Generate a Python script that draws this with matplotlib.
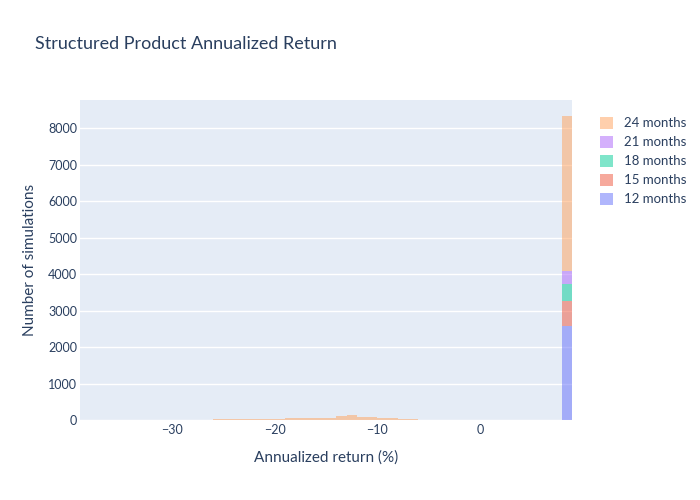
import numpy as np
import matplotlib
matplotlib.use('Agg')
import matplotlib.pyplot as plt
from matplotlib.patches import Patch

# 区间左端点（宽度 1%）
bin_left = [-26, -25, -24, -23, -22, -21, -20, -19, -18, -17, -16, -15,
            -14, -13, -12, -11, -10, -9, -8, -7, -6, -5, -4, -3, -2, -1, 8]
# 各期限在每个区间的模拟次数（堆叠）
months_12 = [0, 0, 0, 0, 0, 0, 0, 0, 0, 0, 0, 0,
             0, 0, 0, 0, 0, 0, 0, 0, 0, 0, 0, 0, 0, 0, 2566]
months_15 = [0, 0, 0, 0, 0, 0, 0, 0, 0, 0, 0, 0,
             0, 0, 0, 0, 0, 0, 0, 0, 0, 0, 0, 0, 0, 0, 706]
months_18 = [0, 0, 0, 0, 0, 0, 0, 0, 0, 0, 0, 0,
             0, 0, 0, 0, 0, 0, 0, 0, 0, 0, 0, 0, 0, 0, 467]
months_21 = [0, 0, 0, 0, 0, 0, 0, 0, 0, 0, 0, 0,
             0, 0, 0, 0, 0, 0, 0, 0, 0, 0, 0, 0, 0, 0, 357]
months_24 = [15, 15, 15, 15, 40, 40, 40, 65, 65, 65, 65, 65,
             100, 125, 95, 95, 65, 65, 40, 40, 12, 12, 12, 12, 12, 12, 4229]

series_names = ['12 months', '15 months', '18 months', '21 months', '24 months']
series_colors = ['#636efa', '#EF553B', '#00cc96', '#ab63fa', '#FFA15A']

TXT = '#2a3f5f'
plt.rcParams['font.family'] = ['Lato', 'DejaVu Sans']

fig = plt.figure(figsize=(7, 5), dpi=100)
ax = fig.add_axes([80 / 700, 80 / 500, 492 / 700, 320 / 500])
ax.set_facecolor('#E5ECF6')

x = np.array(bin_left, dtype=float)
bottom = np.zeros(len(x))
for name, vals, col in zip(series_names,
                           [months_12, months_15, months_18, months_21, months_24],
                           series_colors):
    v = np.array(vals, dtype=float)
    ax.bar(x, v, width=1.0, bottom=bottom, align='edge', color=col,
           alpha=0.5, linewidth=0, zorder=2)
    bottom += v

ax.set_xlim(-38.96, 8.96)
ax.set_ylim(0, 8770)
ax.set_yticks(np.arange(0, 8001, 1000))
ax.set_xticks([-30, -20, -10, 0])
ax.grid(axis='y', color='white', linewidth=1, zorder=1)
ax.set_axisbelow(True)
for s in ax.spines.values():
    s.set_visible(False)
ax.tick_params(axis='y', length=0, labelsize=9, labelcolor=TXT, pad=2)
ax.tick_params(axis='x', length=0, labelsize=9, labelcolor=TXT, pad=3)
ax.set_xlabel('Annualized return (%)', fontsize=11, color=TXT, labelpad=10)
ax.set_ylabel('Number of simulations', fontsize=11, color=TXT, labelpad=8)

fig.text(35 / 700, 1 - 44 / 500, 'Structured Product Annualized Return',
         fontsize=13, color=TXT, va='center', ha='left')

handles = [Patch(facecolor=c, alpha=0.5, edgecolor='none', label=n)
           for n, c in zip(series_names, series_colors)][::-1]
fig.legend(handles=handles, loc='upper left', bbox_to_anchor=(588 / 700, 1 - 105 / 500),
           frameon=False, fontsize=9.5, labelcolor=TXT, handlelength=1.0,
           handleheight=1.0, handletextpad=0.8, labelspacing=0.5)

plt.savefig('out.png', dpi=100)
